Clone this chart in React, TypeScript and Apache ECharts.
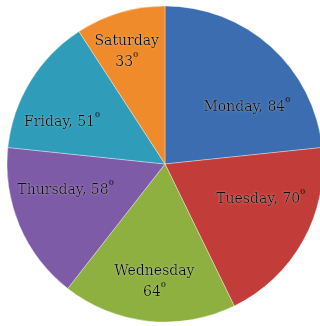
import React, { useEffect, useRef } from "react";
import * as echarts from "echarts";

const days = ["Monday", "Tuesday", "Wednesday", "Thursday", "Friday", "Saturday"];
const degrees = [84, 70, 64, 58, 51, 33];
const colors = ["#3b6db0", "#c23d39", "#8db040", "#7d5ba7", "#2f9cba", "#f08b2b"];
// label layout: two-line labels and nudges from the default inside position
const twoLine = [false, false, true, false, false, true];
const labelNudges: [number, number][] = [
  [27, 3],
  [24, -6],
  [-2, 35],
  [-24, -7],
  [-33, 0],
  [-15, -35],
];

export default function App() {
  const ref = useRef<HTMLDivElement>(null);
  useEffect(() => {
    if (!ref.current) return;
    const chart = echarts.init(ref.current, undefined, { renderer: "svg" });
    const data = days.map((d, i) => ({
      name: d,
      value: degrees[i],
      itemStyle: { color: colors[i] },
      label: {
        offset: labelNudges[i],
        formatter: twoLine[i] ? `{t|${d}}\n{t|${degrees[i]}}{s|0}` : `{t|${d}, ${degrees[i]}}{s|0}`,
      },
    }));
    chart.setOption({
      animation: false,
      series: [
        {
          type: "pie",
          center: [165, 164],
          radius: 158,
          startAngle: 90,
          clockwise: true,
          data,
          itemStyle: { borderColor: "rgba(255,255,255,0.35)", borderWidth: 1 },
          label: {
            show: true,
            position: "inside",
            align: "center",
            rich: {
              t: {
                fontFamily: "DejaVu Serif",
                fontSize: 14,
                color: "#0d0d0d",
                lineHeight: 21,
                textShadowColor: "rgba(255,255,255,0.35)",
                textShadowBlur: 2,
              },
              s: {
                fontFamily: "DejaVu Serif",
                fontSize: 8,
                color: "#0d0d0d",
                verticalAlign: "top",
                padding: [0, 0, 7, 0],
              },
            },
          },
          labelLine: { show: false },
          emphasis: { disabled: true },
        },
      ],
    });
    return () => chart.dispose();
  }, []);
  return (
    <div
      ref={ref}
      style={{ position: "fixed", left: 0, top: 0, width: 320, height: 326, background: "#fff" }}
    />
  );
}
